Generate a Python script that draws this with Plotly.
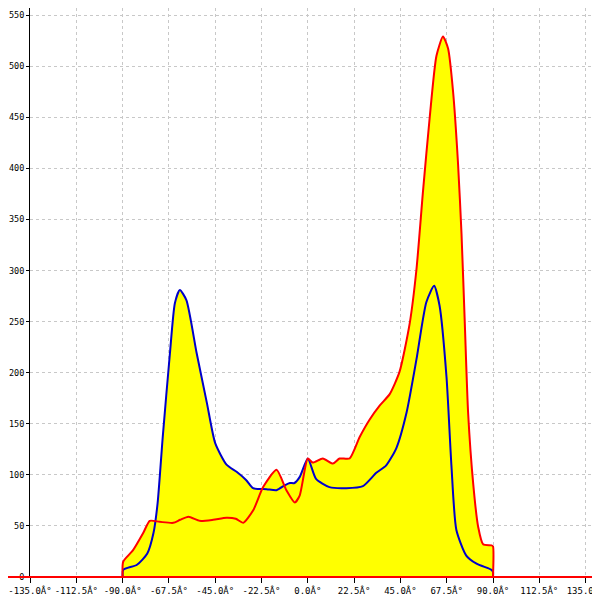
import plotly.graph_objects as go

# Red series (angle in degrees, value)
red_x = [-90, -89.7, -85, -80, -76.8, -72, -65.4, -62, -58, -52.5, -46, -39.5, -35, -31.4,
         -26.6, -21.7, -15.2, -10.4, -6.3, -3.9, 0, 2.4, 7.3, 12.2, 15.4, 20.3, 25.2, 30, 35,
         39.8, 44.6, 49.5, 52.8, 56, 59.3, 62.5, 65.7, 68.2, 70.6, 73, 74.7, 76.3, 77.9, 80.4,
         82.8, 85.2, 89.3, 90, 90]
red_y = [0, 15, 26, 43, 55, 54, 53, 56, 59, 55, 56, 58, 57, 53,
         65, 88, 105, 85, 73, 80, 116, 112, 116, 111, 116, 116, 137, 154, 168,
         179, 201, 248, 301, 378, 451, 510, 529, 517, 475, 405, 336, 248, 161, 91,
         49, 32, 31, 30, 0]

# Blue series
blue_x = [-90, -89.7, -83, -78, -75, -73, -70.5, -67, -64.6, -62.2, -59, -54, -49, -45,
          -39.5, -34.6, -30, -26.6, -20, -15.2, -11, -8.7, -6.5, -3.9, 0, 4, 10.5, 18.7,
          26.8, 33.3, 38, 43, 48, 52.8, 57.6, 61.4, 64, 67.4, 69.8, 72.2, 77, 82, 89.3, 90, 90]
blue_y = [0, 7, 12, 23, 43, 72, 137, 219, 268, 281, 271, 219, 170, 131,
          110, 103, 95, 87, 86, 85, 90, 92, 92, 98, 116, 96, 88, 87,
          89, 102, 109, 126, 161, 213, 269, 285, 266, 196, 109, 46, 21, 13, 7, 5, 0]

x_tick_vals = [-135, -112.5, -90, -67.5, -45, -22.5, 0, 22.5, 45, 67.5, 90, 112.5, 135]
x_tick_text = ["-135.0Â°", "-112.5Â°", "-90.0Â°", "-67.5Â°", "-45.0Â°", "-22.5Â°", "0.0Â°",
               "22.5Â°", "45.0Â°", "67.5Â°", "90.0Â°", "112.5Â°", "135.0Â°"]
y_tick_vals = [0, 50, 100, 150, 200, 250, 300, 350, 400, 450, 500, 550]

fig = go.Figure()
# yellow fills under both curves
for xs, ys in [(red_x, red_y), (blue_x, blue_y)]:
    fig.add_trace(go.Scatter(x=xs, y=ys, mode="lines", fill="tozeroy",
                             fillcolor="#ffff00", line=dict(width=0, shape="spline", smoothing=0.6),
                             hoverinfo="skip", showlegend=False))
fig.add_trace(go.Scatter(x=blue_x, y=blue_y, mode="lines",
                         line=dict(color="#0000cc", width=2, shape="spline", smoothing=0.6),
                         showlegend=False))
fig.add_trace(go.Scatter(x=red_x, y=red_y, mode="lines",
                         line=dict(color="#ff0000", width=2, shape="spline", smoothing=0.6),
                         showlegend=False))

fig.add_shape(type="line", xref="paper", yref="paper", x0=-22/570, x1=1.02, y0=0, y1=0,
              line=dict(color="#ff0000", width=2), layer="above")

font = dict(family="DejaVu Sans Mono", size=9, color="#000000")
yfont = dict(family="DejaVu Sans Mono", size=8.5, color="#000000")
fig.update_layout(
    width=600, height=600,
    margin=dict(l=22, r=8, t=0, b=31, pad=0),
    paper_bgcolor="white", plot_bgcolor="white",
    showlegend=False,
    font=font,
    xaxis=dict(range=[-135, 142], tickmode="array", tickvals=x_tick_vals, ticktext=x_tick_text,
               showgrid=True, gridcolor="#c8c8c8", griddash="3px,3px", gridwidth=1,
               zeroline=False, showline=True, linecolor="#000000", linewidth=1,
               ticks="outside", ticklen=5, tickcolor="#000000", tickfont=font,
               automargin=False),
    yaxis=dict(range=[0, 557], tickmode="array", tickvals=y_tick_vals,
               showgrid=True, gridcolor="#c8c8c8", griddash="3px,3px", gridwidth=1,
               zeroline=False, showline=True, linecolor="#000000", linewidth=1,
               ticks="outside", ticklen=3, tickcolor="#000000", tickfont=yfont,
               automargin=False),
)

fig.write_html("out.html")
